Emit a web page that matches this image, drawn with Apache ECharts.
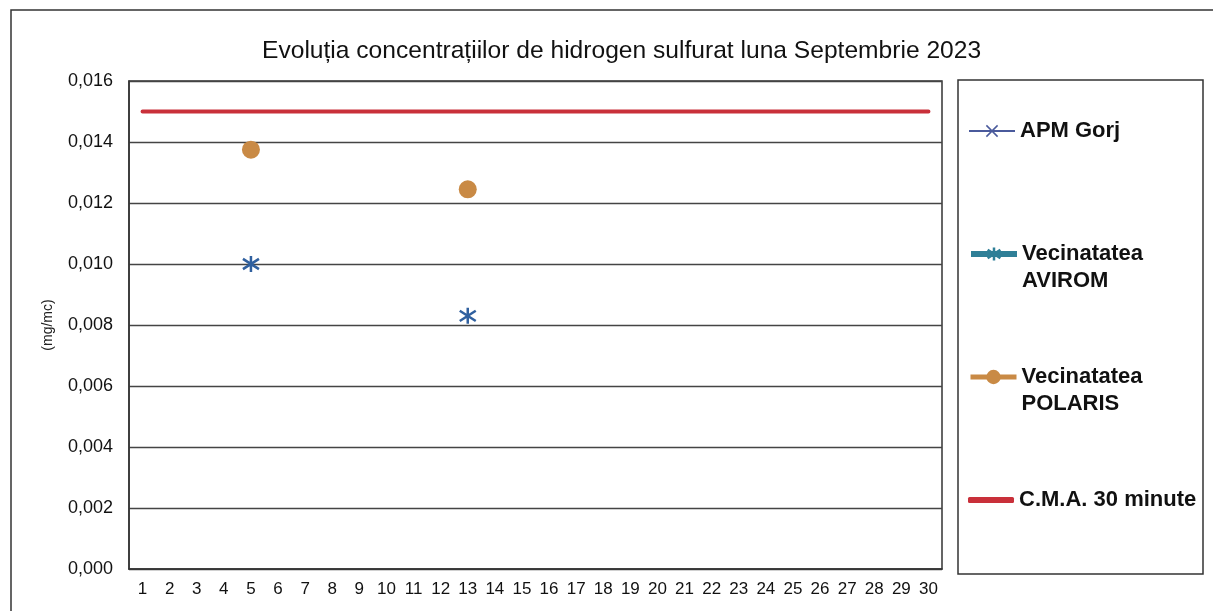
<!DOCTYPE html>
<html>
<head>
<meta charset="utf-8">
<script src="https://cdn.jsdelivr.net/npm/echarts@6/dist/echarts.min.js"></script>
<style>
html,body{margin:0;padding:0;background:#fff;}
#chart{width:1213px;height:611px;}
</style>
</head>
<body>
<div id="chart"></div>
<script>
var titleText = 'Evoluția concentrațiilor de hidrogen sulfurat luna Septembrie 2023';
var yAxisName = '(mg/mc)';
var days = ['1','2','3','4','5','6','7','8','9','10','11','12','13','14','15','16','17','18','19','20','21','22','23','24','25','26','27','28','29','30'];
var apmGorj = [null,null,null,null,null,null,null,null,null,null,null,null,null,null,null,null,null,null,null,null,null,null,null,null,null,null,null,null,null,null];
var avirom = [null,null,null,null,0.0100,null,null,null,null,null,null,null,0.0083,null,null,null,null,null,null,null,null,null,null,null,null,null,null,null,null,null];
var polaris = [null,null,null,null,0.01375,null,null,null,null,null,null,null,0.01245,null,null,null,null,null,null,null,null,null,null,null,null,null,null,null,null,null];
var cma30 = [0.015,0.015,0.015,0.015,0.015,0.015,0.015,0.015,0.015,0.015,0.015,0.015,0.015,0.015,0.015,0.015,0.015,0.015,0.015,0.015,0.015,0.015,0.015,0.015,0.015,0.015,0.015,0.015,0.015,0.015];
var seriesNames = ['APM Gorj', 'Vecinatatea AVIROM', 'Vecinatatea POLARIS', 'C.M.A. 30 minute'];
var legendLabels = ['APM Gorj', '\nVecinatatea\nAVIROM', '\nVecinatatea\nPOLARIS', 'C.M.A. 30 minute'];

var FONT = '"Liberation Sans", Arial, sans-serif';
var asterisk = 'path://M5,0L5,10M1.2,1.8L8.8,8.2M1.2,8.2L8.8,1.8';
var xMark = 'path://M0,0L10,10M0,10L10,0';

var COL_APM = '#4a5a9c', COL_AVI_LINE = '#2f7f97', COL_AVI_MARK = '#30609f', COL_POL = '#c98a45', COL_CMA = '#c9303a';

function mkLegend(idx, top, item, extra) {
  var o = {
    left: 968, top: top, orient: 'vertical', padding: 0,
    itemWidth: 46, itemHeight: 14,
    data: [item],
    selectedMode: false,
    formatter: function () { return legendLabels[idx]; },
    textStyle: { fontFamily: FONT, fontSize: 22, fontWeight: 'bold', color: '#111', lineHeight: 27 }
  };
  if (extra) for (var k in extra) o[k] = extra[k];
  return o;
}

var chart = echarts.init(document.getElementById('chart'), null, { renderer: 'canvas' });
chart.setOption({
  backgroundColor: '#fff',
  animation: false,
  title: {
    text: titleText, left: 262, top: 39, padding: 0,
    textStyle: { fontFamily: FONT, fontSize: 24.6, fontWeight: 'normal', color: '#111' }
  },
  graphic: [
    { type: 'rect', shape: { x: 11, y: 10, width: 1400, height: 800 }, style: { fill: 'none', stroke: '#333', lineWidth: 1.5 }, silent: true },
    { type: 'rect', shape: { x: 958, y: 80, width: 245, height: 494 }, style: { fill: 'none', stroke: '#333', lineWidth: 1.5 }, silent: true }
  ],
  legend: [
    mkLegend(0, 117.5, { name: seriesNames[0], lineStyle: { width: 2, color: COL_APM }, itemStyle: { color: 'none', borderColor: COL_APM, borderWidth: 1.5 } }),
    mkLegend(1, 213.5, { name: seriesNames[1], lineStyle: { width: 6, color: COL_AVI_LINE }, itemStyle: { color: 'none', borderColor: COL_AVI_LINE, borderWidth: 2.5 } }, { itemHeight: 16 }),
    mkLegend(2, 336.5, { name: seriesNames[2], lineStyle: { width: 5, color: COL_POL }, itemStyle: { color: COL_POL } }, { itemHeight: 18 }),
    mkLegend(3, 486.5, { name: seriesNames[3], icon: 'roundRect', itemStyle: { color: COL_CMA } }, { itemHeight: 6 })
  ],
  grid: { left: 129, right: 271, top: 81, bottom: 42, show: true, borderColor: '#333', borderWidth: 1.5, containLabel: false },
  xAxis: {
    type: 'category', data: days, boundaryGap: true,
    axisLine: { show: true, lineStyle: { color: '#333', width: 1.5 } },
    axisTick: { show: false },
    axisLabel: { interval: 0, margin: 12, fontFamily: FONT, fontSize: 17, color: '#111' },
    splitLine: { show: false }
  },
  yAxis: {
    type: 'value', min: 0, max: 0.016, interval: 0.002,
    name: yAxisName, nameLocation: 'middle', nameGap: 74,
    nameTextStyle: { fontFamily: FONT, fontSize: 14, color: '#222' },
    axisLine: { show: true, lineStyle: { color: '#333', width: 1.5 } },
    axisTick: { show: false },
    axisLabel: { margin: 16, fontFamily: FONT, fontSize: 18, color: '#111',
      formatter: function (v) { return v.toFixed(3).replace('.', ','); } },
    splitLine: { show: true, lineStyle: { color: '#444', width: 1.3 } }
  },
  series: [
    { name: seriesNames[0], type: 'line', data: apmGorj, symbol: xMark, symbolSize: 10,
      lineStyle: { color: COL_APM, width: 1.5 },
      itemStyle: { color: 'none', borderColor: COL_APM, borderWidth: 1.5 } },
    { name: seriesNames[1], type: 'line', data: avirom, symbol: asterisk, symbolSize: 16,
      lineStyle: { color: COL_AVI_LINE, width: 4 },
      itemStyle: { color: 'none', borderColor: COL_AVI_MARK, borderWidth: 2.5 } },
    { name: seriesNames[2], type: 'line', data: polaris, symbol: 'circle', symbolSize: 18,
      lineStyle: { color: COL_POL, width: 4 },
      itemStyle: { color: COL_POL, borderWidth: 0 } },
    { name: seriesNames[3], type: 'line', data: cma30, symbol: 'none',
      lineStyle: { color: COL_CMA, width: 4, cap: 'round' },
      itemStyle: { color: COL_CMA } }
  ]
});
</script>
</body>
</html>
